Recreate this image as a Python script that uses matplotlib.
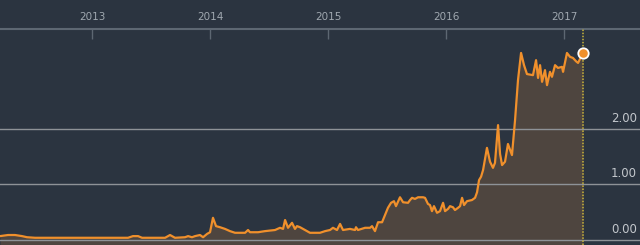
import matplotlib
matplotlib.use("Agg")
import matplotlib.pyplot as plt
import matplotlib.transforms as mtransforms

# price history (decimal year, value)
years = [2012.220, 2012.288, 2012.347, 2012.407, 2012.449, 2012.517, 2012.729, 2012.983,
         2013.153, 2013.305, 2013.347, 2013.390, 2013.424, 2013.619, 2013.661, 2013.703,
         2013.788, 2013.814, 2013.847, 2013.873, 2013.915, 2013.941, 2013.975, 2014.000,
         2014.025, 2014.051, 2014.085, 2014.127, 2014.169, 2014.212, 2014.297, 2014.322,
         2014.339, 2014.407, 2014.466, 2014.551, 2014.593, 2014.619, 2014.636, 2014.661,
         2014.695, 2014.720, 2014.737, 2014.763, 2014.805, 2014.847, 2014.932, 2014.975,
         2015.017, 2015.042, 2015.076, 2015.102, 2015.127, 2015.186, 2015.229, 2015.237,
         2015.254, 2015.314, 2015.356, 2015.373, 2015.398, 2015.424, 2015.458, 2015.483,
         2015.508, 2015.534, 2015.559, 2015.576, 2015.610, 2015.636, 2015.678, 2015.695,
         2015.712, 2015.737, 2015.763, 2015.805, 2015.822, 2015.847, 2015.864, 2015.881,
         2015.898, 2015.924, 2015.949, 2015.975, 2015.992, 2016.017, 2016.034, 2016.059,
         2016.076, 2016.102, 2016.119, 2016.136, 2016.153, 2016.178, 2016.220, 2016.246,
         2016.263, 2016.280, 2016.297, 2016.314, 2016.347, 2016.373, 2016.398, 2016.415,
         2016.441, 2016.458, 2016.475, 2016.500, 2016.525, 2016.559, 2016.585, 2016.610,
         2016.636, 2016.661, 2016.686, 2016.737, 2016.763, 2016.780, 2016.797, 2016.814,
         2016.839, 2016.856, 2016.881, 2016.898, 2016.924, 2016.949, 2016.983, 2016.992,
         2017.025, 2017.051, 2017.076, 2017.102, 2017.119, 2017.161]
prices = [0.07, 0.09, 0.09, 0.07, 0.05, 0.04, 0.04, 0.04,
          0.04, 0.04, 0.07, 0.07, 0.04, 0.04, 0.09, 0.04,
          0.05, 0.07, 0.05, 0.07, 0.09, 0.05, 0.11, 0.14,
          0.40, 0.25, 0.23, 0.20, 0.16, 0.13, 0.13, 0.18,
          0.14, 0.14, 0.16, 0.18, 0.22, 0.20, 0.36, 0.22,
          0.31, 0.20, 0.25, 0.23, 0.18, 0.13, 0.13, 0.16,
          0.18, 0.22, 0.18, 0.29, 0.18, 0.20, 0.18, 0.23,
          0.18, 0.22, 0.22, 0.25, 0.16, 0.32, 0.32, 0.45,
          0.58, 0.67, 0.70, 0.61, 0.77, 0.68, 0.67, 0.72,
          0.76, 0.74, 0.77, 0.77, 0.76, 0.65, 0.63, 0.52,
          0.61, 0.49, 0.52, 0.67, 0.52, 0.56, 0.61, 0.59,
          0.54, 0.58, 0.61, 0.76, 0.63, 0.70, 0.72, 0.76,
          0.86, 1.08, 1.14, 1.26, 1.66, 1.41, 1.30, 1.39,
          2.07, 1.55, 1.35, 1.41, 1.73, 1.53, 2.16, 2.88,
          3.37, 3.15, 2.99, 2.97, 3.24, 2.92, 3.15, 2.85,
          3.06, 2.79, 3.03, 2.94, 3.15, 3.10, 3.12, 3.03,
          3.37, 3.30, 3.28, 3.22, 3.19, 3.37]

year_ticks = [2013, 2014, 2015, 2016, 2017]
grid_values = [0, 1, 2]
grid_labels = ["0.00", "1.00", "2.00"]

bg = "#2b3440"
fill_c = "#4e453f"
line_c = "#f0902c"

fig = plt.figure(figsize=(6.4, 2.45), dpi=100, facecolor=bg)
ax = fig.add_axes([0, 0, 1, 1])
ax.set_facecolor(bg)
ax.set_xlim(2012.22, 2017.644)
ax.set_ylim(-0.09, 4.324)
ax.axis("off")

ymin = ax.get_ylim()[0]
ax.fill_between(years, prices, ymin, color=fill_c, lw=0, zorder=1)

for v, lab in zip(grid_values, grid_labels):
    ax.axhline(v, color="#8e9297", lw=1, zorder=2)
    tr = mtransforms.blended_transform_factory(ax.transAxes, ax.transData)
    ax.text(0.995, v + 0.19, lab, transform=tr, ha="right", va="center",
            fontsize=8.5, color="#c3c7cc", zorder=5)

# top time axis
top = 3.80
ax.axhline(top, color="#5d6772", lw=1.5, zorder=2)
ax.vlines(year_ticks, top - 0.18, top, color="#5d6772", lw=1, zorder=2)
for yr in year_ticks:
    ax.text(yr, top + 0.22, str(yr), ha="center", va="center",
            fontsize=7.5, color="#a0a8b0")

# current marker
ax.vlines(years[-1], ymin, top, color="#c8b43c", lw=1.1, linestyles=(0, (1, 1)), zorder=3)
ax.plot(years, prices, color=line_c, lw=1.6, zorder=4, solid_joinstyle="round")
ax.plot(years[-1], prices[-1], "o", color=line_c, ms=7.5, mec="white", mew=1.3, zorder=6)

fig.savefig("out.png", dpi=100, facecolor=bg)
